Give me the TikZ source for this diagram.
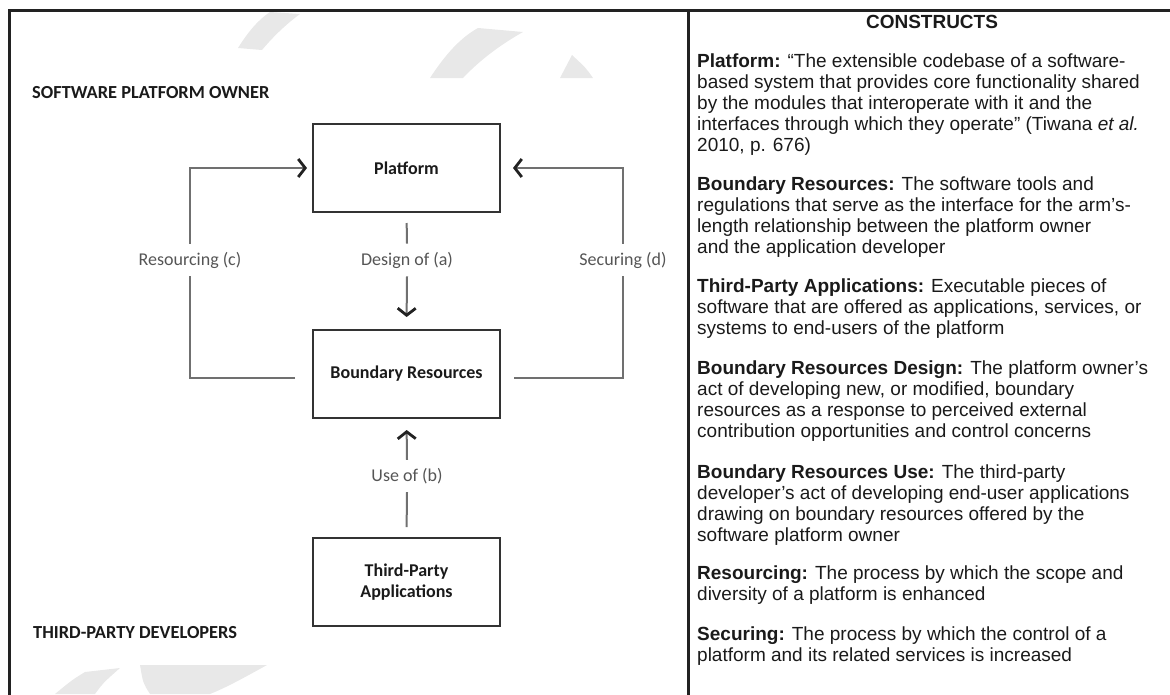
\documentclass[tikz,border=0pt]{standalone}
\usepackage{fontspec}
\setmainfont{Liberation Sans}
\newfontfamily\carl{Carlito}
\usetikzlibrary{arrows.meta}
\definecolor{framec}{HTML}{222222}
\definecolor{boxc}{HTML}{333333}
\definecolor{linec}{HTML}{707070}
\definecolor{labc}{HTML}{555555}
\definecolor{txtc}{HTML}{1A1A1A}
\definecolor{wmc}{HTML}{E8E8E8}
\begin{document}
\begin{tikzpicture}[x=1pt,y=-1pt,
  box/.style={draw=boxc,line width=2pt,minimum width=187pt,minimum height=88pt,inner sep=0pt,
    font=\carl\bfseries\fontsize{18}{21}\selectfont,text=txtc,align=center},
  lab/.style={font=\carl\fontsize{18}{21}\selectfont,text=labc,inner xsep=0pt,inner ysep=8pt},
  conn/.style={draw=linec,line width=2pt},
  tip/.style={-{Straight Barb[length=7pt,width=18pt,line width=2.8pt,color=framec]}},
  para/.style={anchor=base west,align=left,inner sep=0pt,font=\fontsize{19}{21}\selectfont,text=txtc},
  owner/.style={anchor=west,inner sep=0pt,font=\carl\bfseries\fontsize{18.4}{21}\selectfont,text=txtc},
  wm/.style={fill=wmc}]
\useasboundingbox (0,0) rectangle (1170,694);
% faint watermark pieces
\fill[wm] (430,78) .. controls (445,55) and (460,38) .. (478,28) -- (523,32) .. controls (500,45) and (480,60) .. (463,78) -- cycle;
\fill[wm] (560,78) -- (593,78) .. controls (586,68) .. (572,55) -- cycle;
\fill[wm] (238,48) .. controls (248,32) and (258,20) .. (270,12) -- (300,14) .. controls (285,25) and (272,38) .. (262,50) -- cycle;
\fill[wm] (55,694) -- (95,694) .. controls (103,683) .. (120,668) -- (85,672) .. controls (72,680) .. cycle;
\fill[wm] (140,665) -- (267,665) .. controls (240,680) and (225,688) .. (210,694) -- (150,694) .. controls (143,683) .. cycle;
% frame
\draw[framec,line width=3pt] (9,700) -- (9,10) -- (1175,10);
\draw[framec,line width=3pt] (688,10) -- (688,700);
% left diagram
\node[owner] (spo) at (32,93) {SOFTWARE PLATFORM OWNER};
\node[owner] (tpd) at (33,633) {THIRD-PARTY DEVELOPERS};
\node[box] (plat) at (406.5,168) {Platform};
\node[box] (bnd) at (406.5,374) {Boundary Resources};
\node[box] (tpa) at (406.5,582) {Third-Party\\Applications};
\node[lab] (design) at (407,260) {Design of (a)};
\node[lab] (use) at (407,476) {Use of (b)};
\node[lab] (resc) at (190,260) {Resourcing (c)};
\node[lab] (secd) at (623,260) {Securing (d)};
\draw[conn,shorten <=10pt] (plat.south) -- (design.north);
\draw[conn,tip,shorten >=12pt] (design.south) -- (bnd.north);
\draw[conn,shorten <=10pt] (tpa.north) -- (use.south);
\draw[conn,tip,shorten >=11pt] (use.north) -- (bnd.south);
\draw[conn,shorten <=17pt] ([yshift=-4pt]bnd.west) -| (resc.south);
\draw[conn,tip,shorten >=5pt] (resc.north) |- (plat.west);
\draw[conn,shorten <=13pt] ([yshift=-4pt]bnd.east) -| (secd.south);
\draw[conn,tip,shorten >=12pt] (secd.north) |- (plat.east);
% right panel (base anchor = baseline of last line)
\node[anchor=base,inner sep=0pt,font=\bfseries\fontsize{19}{21}\selectfont,text=txtc] (cons) at (932,28) {CONSTRUCTS};
\node[para] (p1) at (697,151) {\textbf{Platform:} “The extensible codebase of a software-\\based system that provides core functionality shared\\by the modules that interoperate with it and the\\interfaces through which they operate” (Tiwana \textit{et al.}\\2010, p. 676)};
\node[para] (p2) at (697,253) {\textbf{Boundary Resources:} The software tools and\\regulations that serve as the interface for the arm's-\\length relationship between the platform owner\\and the application developer};
\node[para] (p3) at (697,334) {\textbf{Third-Party Applications:} Executable pieces of\\software that are offered as applications, services, or\\systems to end-users of the platform};
\node[para] (p4) at (697,437) {\textbf{Boundary Resources Design:} The platform owner’s\\act of developing new, or modified, boundary\\resources as a response to perceived external\\contribution opportunities and control concerns};
\node[para] (p5) at (697,541) {\textbf{Boundary Resources Use:} The third-party\\developer’s act of developing end-user applications\\drawing on boundary resources offered by the\\software platform owner};
\node[para] (p6) at (697,600) {\textbf{Resourcing:} The process by which the scope and\\diversity of a platform is enhanced};
\node[para] (p7) at (697,661) {\textbf{Securing:} The process by which the control of a\\platform and its related services is increased};
\end{tikzpicture}
\end{document}
